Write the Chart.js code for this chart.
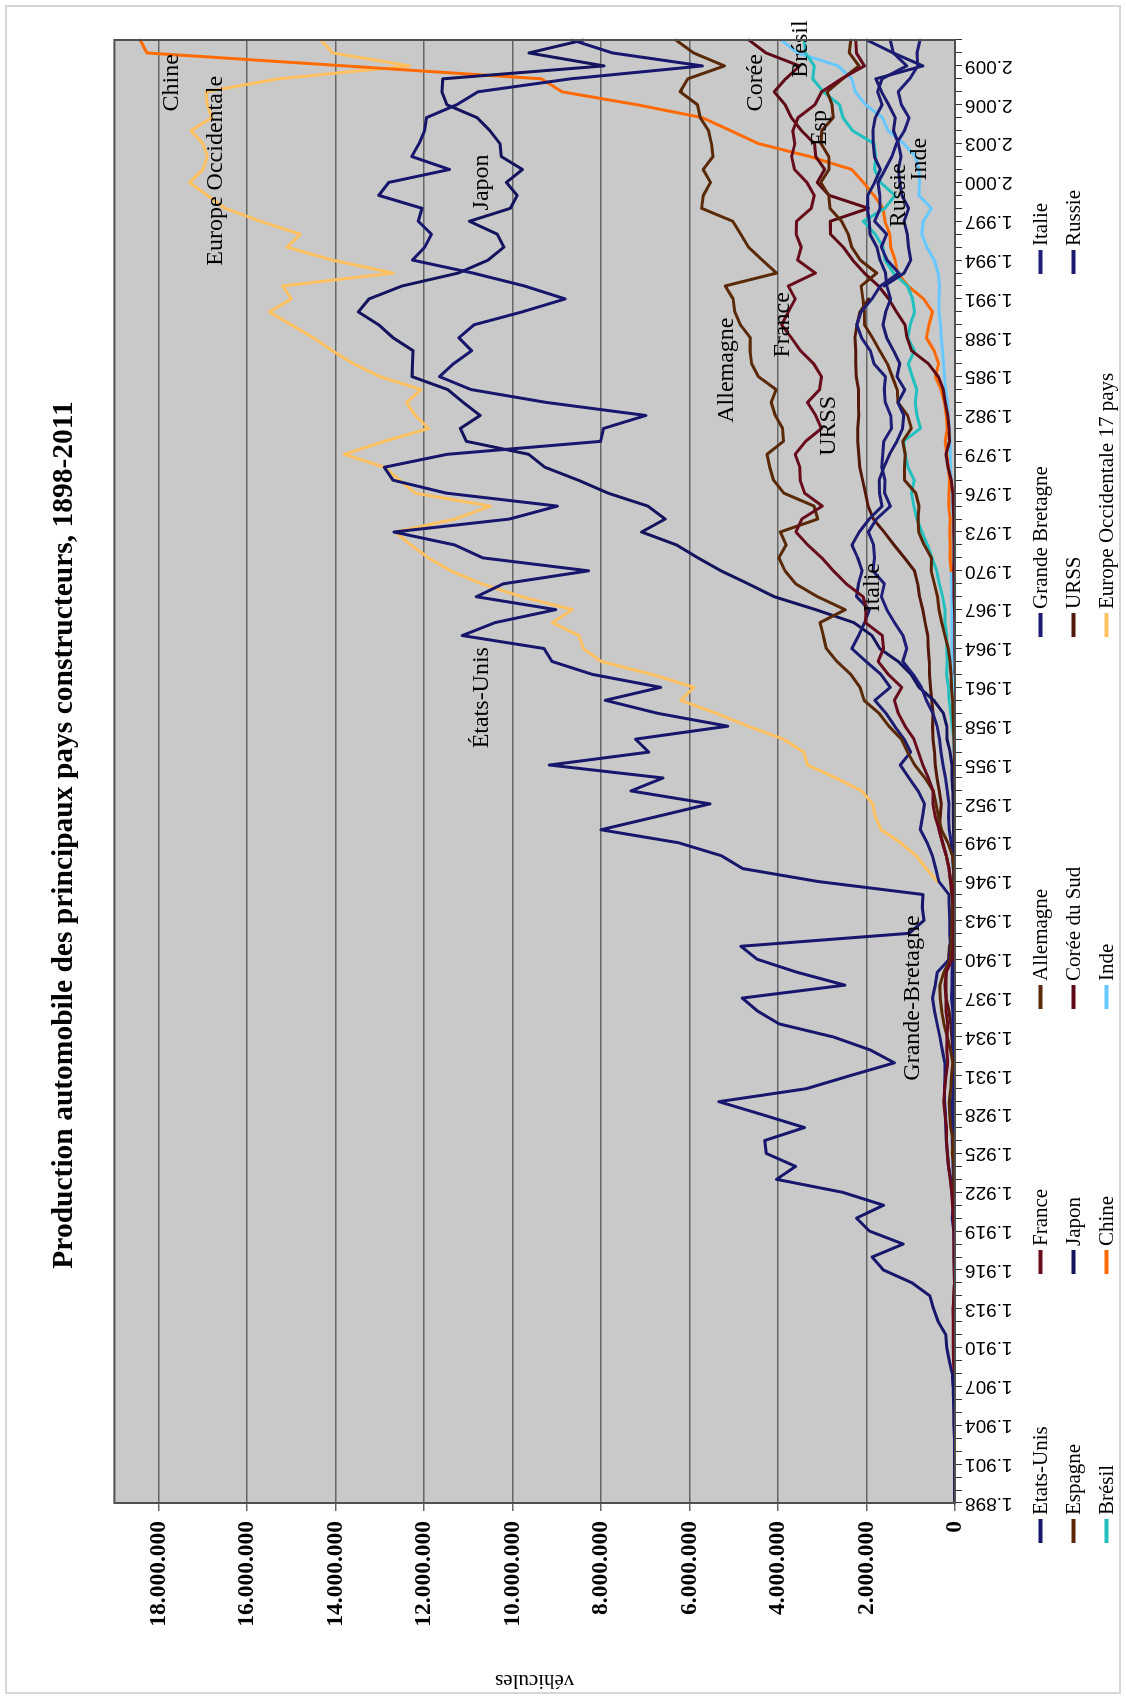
<!DOCTYPE html>
<html lang="fr">
<head>
<meta charset="utf-8">
<title>Production automobile des principaux pays constructeurs, 1898-2011</title>
<script src="https://cdn.jsdelivr.net/npm/chart.js@4.4.1/dist/chart.umd.min.js"></script>
<style>
  html, body { margin: 0; padding: 0; background: #fff; }
  body { width: 1126px; height: 1699px; overflow: hidden; position: relative; }
  #frame { position: absolute; left: 5px; top: 5px; width: 1112px; height: 1685px; border: 2px solid #d6d6d6; }
  /* le graphique est construit en paysage puis tourné d'un quart de tour */
  #wrap { position: absolute; left: 0; top: 0; width: 1699px; height: 1126px;
          transform-origin: 0 0; transform: translateY(1699px) rotate(-90deg); }
  #c { position: absolute; left: 0; top: 0; width: 1699px; height: 1126px; }
  #legend { position: absolute; left: 0; top: 0; width: 1699px; height: 1126px; pointer-events: none;
            font-family: "Liberation Serif", "Times New Roman", serif; font-size: 21px; color: #000; }
  .item { position: absolute; display: flex; align-items: center; white-space: nowrap; transform: translateY(-50%); }
  .mark { display: inline-block; width: 24px; height: 4px; margin-right: 4px; }
</style>
</head>
<body>
<div id="frame"></div>
<div id="wrap">
  <canvas id="c" width="1699" height="1126"></canvas>
  <div id="legend"></div>
</div>
<script>
// --- données (milliers de véhicules), chaque série commence à son année de départ ---
const firstYear = 1898;
const lastYear = 2011;

const etatsUnis = [
  1, 3, 4, 7, 9, 11, 22, 25, 34, 44,
  65, 130, 187, 210, 378, 485, 569, 970, 1618, 1874,
  1170, 1934, 2227, 1616, 2544, 4034, 3603, 4266, 4301, 3401,
  4359, 5337, 3363, 2380, 1371, 1920, 2753, 3971, 4462, 4809,
  2489, 3577, 4472, 4841, 1040, 700, 738, 725, 3090, 4798,
  5285, 6254, 8003, 6765, 5539, 7323, 6601, 9169, 6921, 7220,
  5135, 6729, 7905, 6653, 8197, 9109, 9292, 11138, 10396, 9024,
  10820, 10206, 8284, 10672, 11311, 12682, 10073, 8987, 11498, 12703,
  12899, 11480, 8010, 7943, 6986, 9225, 10939, 11653, 11335, 10925,
  11214, 10874, 9783, 8811, 9729, 10898, 12263, 11985, 11832, 12131,
  12047, 13025, 12800, 11425, 12280, 12115, 11989, 11947, 11264, 10781,
  8694, 5710, 7743, 8654
];
const france = [
  2, 2, 5, 8, 9, 14, 17, 20, 24, 25,
  25, 34, 38, 40, 41, 45, 25, 10, 15, 20,
  25, 25, 40, 55, 75, 110, 145, 177, 192, 190,
  224, 254, 230, 201, 163, 189, 181, 165, 204, 201,
  227, 200, 60, 30, 20, 15, 5, 35, 96, 137,
  198, 286, 357, 446, 500, 497, 600, 725, 827, 928,
  1128, 1283, 1369, 1205, 1509, 1737, 1616, 1642, 2024, 2010,
  2075, 2459, 2750, 3010, 3328, 3596, 3463, 3000, 3400, 3500,
  3508, 3613, 3378, 3019, 3149, 3336, 3062, 3016, 3195, 3493,
  3698, 3920, 3769, 3611, 3768, 3156, 3558, 3475, 3591, 3581,
  3250, 3180, 3348, 3628, 3693, 3620, 3666, 3549, 3169, 3016,
  2568, 2048, 2229, 2243
];
const allemagne = [
  1, 1, 1, 1, 1, 2, 3, 4, 5, 5,
  6, 8, 13, 16, 20, 23, 20, 10, 10, 10,
  10, 10, 15, 20, 25, 30, 22, 62, 40, 94,
  117, 128, 96, 79, 52, 104, 175, 247, 302, 332,
  342, 250, 110, 90, 80, 70, 60, 10, 23, 25,
  59, 161, 306, 374, 431, 490, 680, 909, 1074, 1212,
  1495, 1719, 2055, 2147, 2357, 2668, 2909, 2976, 3051, 2482,
  3107, 3604, 3842, 3983, 3816, 3949, 3103, 3186, 3868, 4101,
  4186, 4250, 3879, 3897, 4063, 4154, 4045, 4446, 4597, 4634,
  4626, 4852, 4977, 5015, 5194, 4032, 4356, 4667, 4843, 5023,
  5727, 5688, 5527, 5692, 5469, 5506, 5570, 5758, 5820, 6213,
  6041, 5210, 5906, 6311
];
const grandeBretagne = [
  0, 1, 1, 2, 3, 4, 5, 5, 7, 8,
  10, 12, 14, 19, 23, 34, 25, 12, 12, 10,
  10, 30, 60, 40, 73, 95, 146, 167, 198, 211,
  212, 239, 237, 226, 233, 286, 342, 404, 462, 508,
  445, 400, 130, 100, 120, 120, 130, 139, 365, 434,
  512, 629, 784, 734, 690, 835, 1038, 1237, 1004, 1149,
  1364, 1560, 1811, 1464, 1675, 2012, 2332, 2177, 2043, 1937,
  2225, 2183, 2098, 2198, 2329, 2164, 1937, 1648, 1706, 1714,
  1608, 1479, 1313, 1184, 1156, 1289, 1134, 1311, 1247, 1389,
  1544, 1626, 1566, 1454, 1540, 1569, 1695, 1765, 1924, 1936,
  1976, 1973, 1814, 1685, 1821, 1846, 1856, 1803, 1648, 1750,
  1650, 1090, 1393, 1464
];
const italie = [
  0, 0, 0, 1, 1, 1, 1, 2, 2, 3,
  4, 5, 9, 10, 10, 10, 9, 14, 16, 20,
  20, 20, 21, 22, 23, 35, 46, 50, 64, 55,
  57, 55, 46, 28, 30, 42, 46, 50, 50, 77,
  70, 70, 50, 50, 40, 30, 10, 5, 30, 40,
  59, 86, 128, 146, 138, 174, 217, 269, 316, 352,
  404, 501, 645, 759, 946, 1180, 1090, 1175, 1366, 1542,
  1664, 1596, 1854, 1817, 1840, 1958, 1773, 1459, 1591, 1584,
  1656, 1632, 1612, 1434, 1453, 1575, 1600, 1573, 1832, 1913,
  2111, 2221, 2121, 1878, 1687, 1267, 1534, 1667, 1545, 1817,
  1693, 1701, 1738, 1580, 1427, 1322, 1142, 1038, 1212, 1284,
  1024, 843, 857, 790
];
const espagneStart = 1946;
const espagne = [
  1, 1, 1, 1, 1, 1, 1, 2, 5, 10,
  15, 22, 32, 45, 58, 79, 90, 113, 153, 229,
  298, 361, 394, 466, 539, 533, 696, 822, 836, 814,
  887, 1139, 1143, 1123, 1182, 987, 1071, 1288, 1308, 1418,
  1530, 1702, 1866, 2046, 2053, 2082, 2122, 1768, 2142, 2334,
  2412, 2562, 2826, 2852, 3033, 2850, 2855, 3030, 3012, 2753,
  2778, 2890, 2542, 2170, 2388, 2354
];
const japonStart = 1930;
const japon = [
  1, 1, 1, 1, 3, 5, 12, 18, 24, 34,
  46, 46, 38, 25, 21, 7, 15, 11, 20, 29,
  32, 38, 39, 50, 70, 69, 111, 182, 188, 263,
  482, 814, 991, 1284, 1702, 1876, 2286, 3146, 4086, 4675,
  5289, 5811, 6294, 7083, 6552, 6942, 7842, 8515, 9269, 9636,
  11043, 11180, 10732, 11112, 11465, 12271, 12260, 12249, 12700, 13026,
  13487, 13245, 12499, 11228, 10554, 10196, 10346, 10975, 10050, 9895,
  10141, 9777, 10257, 10286, 10512, 10800, 11484, 11596, 11576, 7934,
  9629, 8399
];
const coreeStart = 1962;
const coree = [
  2, 2, 3, 4, 5, 10, 20, 25, 29, 23,
  23, 26, 30, 37, 49, 86, 159, 204, 123, 134,
  162, 221, 265, 378, 602, 980, 1084, 1129, 1322, 1498,
  1730, 2050, 2312, 2526, 2813, 2818, 1954, 2843, 3115, 2946,
  3148, 3178, 3469, 3699, 3840, 4086, 3827, 3513, 4272, 4657
];
const urssStart = 1925;
const urss = [
  0, 0, 0, 1, 2, 4, 4, 24, 50, 72,
  97, 136, 200, 211, 200, 145, 124, 35, 30, 50,
  75, 102, 133, 197, 276, 363, 335, 310, 354, 405,
  445, 465, 495, 511, 495, 524, 555, 578, 581, 603,
  616, 675, 729, 800, 844, 916, 1142, 1379, 1602, 1846,
  1964, 2025, 2088, 2152, 2173, 2199, 2197, 2173, 2184, 2183,
  2232, 2246, 2245, 2263, 2217, 2149, 1950
];
const russieStart = 1992;
const russie = [
  1600, 1150, 1000, 1050, 1080, 1150, 1050, 1200, 1250, 1280,
  1220, 1280, 1390, 1350, 1500, 1660, 1790, 725, 1400, 1990
];
const bresilStart = 1957;
const bresil = [
  31, 61, 96, 133, 145, 191, 174, 184, 185, 225,
  226, 280, 354, 416, 517, 622, 750, 859, 930, 986,
  921, 1064, 1128, 1165, 781, 859, 896, 865, 967, 1056,
  920, 1069, 1013, 914, 960, 1074, 1391, 1581, 1629, 1804,
  2069, 1586, 1357, 1682, 1817, 1792, 1828, 2317, 2531, 2611,
  2977, 3216, 3183, 3382, 3407
];
const chineStart = 1970;
const chine = [
  87, 111, 108, 117, 105, 140, 135, 125, 149, 186,
  222, 176, 196, 240, 316, 443, 370, 472, 647, 587,
  509, 709, 1062, 1297, 1353, 1453, 1475, 1583, 1629, 1832,
  2069, 2334, 3287, 4444, 5071, 5708, 7189, 8882, 9345, 13791,
  18265, 18419
];
const indeStart = 1949;
const inde = [
  10, 15, 20, 18, 20, 22, 25, 30, 32, 30,
  38, 50, 55, 58, 60, 67, 70, 72, 70, 75,
  80, 85, 88, 82, 90, 85, 70, 80, 90, 100,
  110, 113, 130, 150, 170, 210, 240, 260, 280, 310,
  330, 364, 360, 350, 380, 470, 636, 750, 720, 530,
  818, 801, 815, 895, 1161, 1511, 1639, 2020, 2254, 2332,
  2642, 3557, 3927
];
const europeStart = 1946;
const europe = [
  400, 650, 880, 1230, 1670, 1800, 1860, 2110, 2690, 3330,
  3420, 3880, 4680, 5400, 6200, 5900, 6850, 8000, 8400, 8500,
  9100, 8650, 9800, 10700, 11400, 11900, 12300, 12650, 11300, 10500,
  12200, 12550, 12900, 13800, 12900, 11900, 12200, 12400, 12070, 13000,
  13600, 14070, 14500, 15000, 15500, 15000, 15200, 12700, 14070, 15100,
  14800, 15700, 16500, 16900, 17300, 17000, 16900, 17000, 17270, 16800,
  16900, 16930, 15300, 12330, 14070, 14330
];

// graduations de l'axe des véhicules
const yTicks = [0, 2000000, 4000000, 6000000, 8000000, 10000000, 12000000, 14000000, 16000000, 18000000];
const yMax = 19000000;

// étiquettes posées sur les courbes (année, millions de véhicules)
const noteTexts  = ['Chine', 'Europe Occidentale', 'Japon', 'États-Unis', 'Grande-Bretagne', 'Allemagne',
                    'France', 'URSS', 'Italie', 'Corée', 'Brésil', 'Esp', 'Russie', 'Inde'];
const noteYears  = [2007.7, 2000.9, 2000.0, 1960.2, 1937.0, 1985.5, 1989.0, 1981.2, 1968.7, 2007.7, 2010.3, 2004.2, 1999.0, 2001.8];
const noteValues = [17.7, 16.7, 10.7, 10.7, 0.95, 5.15, 3.9, 2.85, 1.85, 4.5, 3.48, 3.05, 1.27, 0.8];

// --- construction ---
const years = [];
for (let y = firstYear; y <= lastYear; y++) years.push(y);

function serie(start, values) {
  return years.map(y => {
    const i = y - start;
    return (i >= 0 && i < values.length) ? values[i] * 1000 : null;
  });
}

function dots(n) {
  return String(n).replace(/\B(?=(\d{3})+(?!\d))/g, '.');
}

const series = [
  { label: 'Etats-Unis', data: serie(firstYear, etatsUnis), color: '#16166c' },
  { label: 'France', data: serie(firstYear, france), color: '#680c1c' },
  { label: 'Allemagne', data: serie(firstYear, allemagne), color: '#5a2a08' },
  { label: 'Grande Bretagne', data: serie(firstYear, grandeBretagne), color: '#1b1b72' },
  { label: 'Italie', data: serie(firstYear, italie), color: '#1e1e78' },
  { label: 'Espagne', data: serie(espagneStart, espagne), color: '#5c2606' },
  { label: 'Japon', data: serie(japonStart, japon), color: '#13135e' },
  { label: 'Corée du Sud', data: serie(coreeStart, coree), color: '#5e0a16' },
  { label: 'URSS', data: serie(urssStart, urss), color: '#54180a' },
  { label: 'Russie', data: serie(russieStart, russie), color: '#1a1a6e' },
  { label: 'Brésil', data: serie(bresilStart, bresil), color: '#22bfbf' },
  { label: 'Chine', data: serie(chineStart, chine), color: '#ff6a00' },
  { label: 'Inde', data: serie(indeStart, inde), color: '#66c8ff' },
  { label: 'Europe Occidentale 17 pays', data: serie(europeStart, europe), color: '#ffc060' }
];

// fond gris et cadre de la zone de tracé
const plotFrame = {
  id: 'plotFrame',
  beforeDraw(chart) {
    const a = chart.chartArea, ctx = chart.ctx;
    ctx.save();
    ctx.fillStyle = '#c9c9c9';
    ctx.fillRect(a.left, a.top, a.right - a.left, a.bottom - a.top);
    ctx.restore();
  },
  afterDraw(chart) {
    const a = chart.chartArea, ctx = chart.ctx;
    ctx.save();
    ctx.strokeStyle = '#505050';
    ctx.lineWidth = 2;
    ctx.strokeRect(a.left, a.top, a.right - a.left, a.bottom - a.top);
    ctx.restore();
  }
};

// noms des pays écrits à côté des courbes
const curveNotes = {
  id: 'curveNotes',
  afterDatasetsDraw(chart) {
    const ctx = chart.ctx, x = chart.scales.x, y = chart.scales.y;
    ctx.save();
    ctx.font = '24px "Liberation Serif", "Times New Roman", serif';
    ctx.fillStyle = '#000';
    ctx.textAlign = 'center';
    ctx.textBaseline = 'middle';
    noteTexts.forEach((t, i) => {
      ctx.fillText(t, x.getPixelForValue(noteYears[i] - firstYear), y.getPixelForValue(noteValues[i] * 1e6));
    });
    ctx.restore();
  }
};

const chart = new Chart(document.getElementById('c'), {
  type: 'line',
  data: {
    labels: years,
    datasets: series.map(s => ({
      label: s.label,
      data: s.data,
      borderColor: s.color,
      backgroundColor: s.color,
      borderWidth: 3,
      pointRadius: 0,
      tension: 0,
      spanGaps: false,
      borderJoinStyle: 'round',
      borderCapStyle: 'round'
    }))
  },
  options: {
    responsive: false,
    devicePixelRatio: 1,
    animation: false,
    // marge gauche pour décaler le titre ; l'axe garde sa place grâce à afterFit
    layout: { padding: { left: 69, right: 40, top: 0, bottom: 0 } },
    plugins: {
      legend: { display: false },
      tooltip: { enabled: false },
      title: {
        display: true,
        text: 'Production automobile des principaux pays constructeurs, 1898-2011',
        color: '#000',
        font: { family: '"Liberation Serif", "Times New Roman", serif', size: 29.5, weight: 'bold', lineHeight: 1.2 },
        padding: { top: 47, bottom: 32 }
      }
    },
    scales: {
      x: {
        type: 'category',
        afterFit: s => { s.height = 171; },
        grid: { drawOnChartArea: false, drawTicks: true, tickLength: 7, color: '#333' },
        border: { display: false },
        ticks: {
          autoSkip: false,
          minRotation: 90,
          maxRotation: 90,
          padding: 3,
          color: '#000',
          font: { family: '"Liberation Sans", Arial, sans-serif', size: 19 },
          callback: function (val, i) {
            return i % 3 === 0 ? dots(this.getLabelForValue(val)) : '';
          }
        }
      },
      y: {
        min: 0,
        max: yMax,
        afterFit: s => { s.width = 127; },
        afterBuildTicks: s => { s.ticks = yTicks.map(v => ({ value: v })); },
        grid: { color: '#666', lineWidth: 1.5, tickLength: 8 },
        border: { display: false },
        ticks: {
          padding: 10,
          color: '#000',
          font: { family: '"Liberation Serif", "Times New Roman", serif', size: 23.5, weight: 'bold' },
          callback: v => dots(v)
        },
        title: {
          display: true,
          text: 'véhicules',
          color: '#000',
          font: { family: '"Liberation Serif", "Times New Roman", serif', size: 21 },
          padding: { top: -63, bottom: 0 }
        }
      }
    }
  },
  plugins: [plotFrame, curveNotes]
});

// légende sur trois rangées, colonnes alignées comme dans Excel
const legendCols = [156, 425, 690, 1062, 1425];
const legendRows = [1040, 1073, 1106];
const legendBox = document.getElementById('legend');
chart.data.datasets.forEach((ds, i) => {
  const item = document.createElement('div');
  item.className = 'item';
  item.style.left = legendCols[i % 5] + 'px';
  item.style.top = legendRows[Math.floor(i / 5)] + 'px';
  const mark = document.createElement('span');
  mark.className = 'mark';
  mark.style.background = ds.borderColor;
  item.appendChild(mark);
  item.appendChild(document.createTextNode(ds.label));
  legendBox.appendChild(item);
});
</script>
</body>
</html>
